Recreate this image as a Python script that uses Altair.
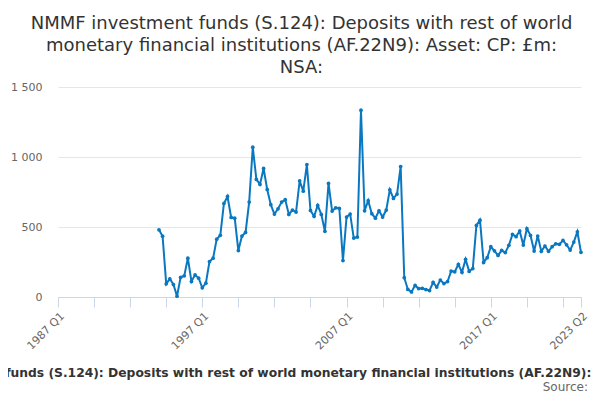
import altair as alt
import pandas as pd

# quarterly categories 1987 Q1 .. 2023 Q2
years = list(range(1987, 2024))
quarters = [f"{y} Q{q}" for y in years for q in (1, 2, 3, 4)]
quarters = quarters[: quarters.index("2023 Q2") + 1]

start = "1994 Q1"
values = [
    480, 434, 94, 130, 89, 6, 141, 151, 277, 111, 158, 134, 66, 99, 253, 277,
    413, 441, 668, 718, 568, 563, 332, 435, 461, 678, 1070, 840, 804, 918, 768, 659,
    592, 630, 678, 695, 590, 621, 607, 830, 756, 946, 618, 576, 654, 590, 469, 811,
    614, 637, 633, 260, 571, 592, 421, 428, 1334, 616, 688, 595, 563, 616, 571, 621,
    766, 704, 735, 932, 138, 54, 36, 83, 60, 62, 53, 46, 105, 71, 121, 96,
    110, 185, 180, 233, 176, 269, 183, 203, 511, 549, 247, 281, 359, 330, 297, 333,
    317, 369, 447, 431, 471, 371, 488, 440, 328, 435, 326, 364, 326, 359, 380, 376,
    404, 373, 335, 392, 466, 319,
]
periods = quarters[quarters.index(start): quarters.index(start) + len(values)]

tick_values = quarters[::10] + [quarters[-1]]
label_values = ["1987 Q1", "1997 Q1", "2007 Q1", "2017 Q1", "2023 Q2"]
y_ticks = [0, 500, 1000, 1500]

title_lines = [
    "NMMF investment funds (S.124): Deposits with rest of world",
    "monetary financial institutions (AF.22N9): Asset: CP: £m:",
    "NSA:",
]
full_title = "NMMF investment funds (S.124): Deposits with rest of world monetary financial institutions (AF.22N9): Asset: CP: £m: NSA:"
source_text = "Source:"

df = pd.DataFrame({"period": periods, "value": values})

label_list = ",".join(f"'{v}'" for v in label_values)

line = alt.Chart(df).mark_line(
    color="#0a78c0", strokeWidth=2,
    point=alt.OverlayMarkDef(color="#0a78c0", size=14, filled=True, opacity=1),
).encode(
    x=alt.X(
        "period:O",
        scale=alt.Scale(type="point", domain=quarters, padding=0),
        axis=alt.Axis(
            title=None,
            values=tick_values,
            labelExpr=f"indexof([{label_list}], datum.value) >= 0 ? datum.value : ''",
            labelAngle=-45,
            labelAlign="right",
            labelBaseline="top",
            labelColor="#666666",
            labelFontSize=11,
            labelFont="DejaVu Sans",
            labelPadding=3,
            tickColor="#ccd6eb",
            tickSize=10,
            domainColor="#ccd6eb",
            grid=False,
        ),
    ),
    y=alt.Y(
        "value:Q",
        scale=alt.Scale(domain=[0, 1500], nice=False, zero=True),
        axis=alt.Axis(
            title=None,
            values=y_ticks,
            labelExpr="replace(format(datum.value, ','), ',', ' ')",
            labelColor="#666666",
            labelFontSize=11,
            labelFont="DejaVu Sans",
            labelPadding=16,
            domain=False,
            ticks=False,
            gridColor="#e6e6e6",
        ),
    ),
)

bottom_title = alt.Chart(pd.DataFrame({"t": [full_title]})).mark_text(
    font="DejaVu Sans", fontSize=12.3, fontWeight="bold", color="#333333",
    align="center", baseline="alphabetic",
).encode(text="t:N", x=alt.value(247), y=alt.value(290))

source = alt.Chart(pd.DataFrame({"t": [source_text]})).mark_text(
    font="DejaVu Sans", fontSize=12, color="#666666",
    align="right", baseline="alphabetic",
).encode(text="t:N", x=alt.value(530), y=alt.value(304))

chart = alt.layer(line, bottom_title, source).properties(
    width=523,
    height=210,
    title=alt.TitleParams(
        text=title_lines,
        font="DejaVu Sans",
        fontSize=18,
        fontWeight="normal",
        color="#333333",
        anchor="middle",
        dx=-18,
        lineHeight=22,
        offset=4,
    ),
    autosize=alt.AutoSizeParams(type="none"),
    padding={"left": 50, "top": 79, "right": 11, "bottom": 94},
).configure_view(stroke=None)

chart.save("out.html", embed_options={"renderer": "svg", "actions": False})
